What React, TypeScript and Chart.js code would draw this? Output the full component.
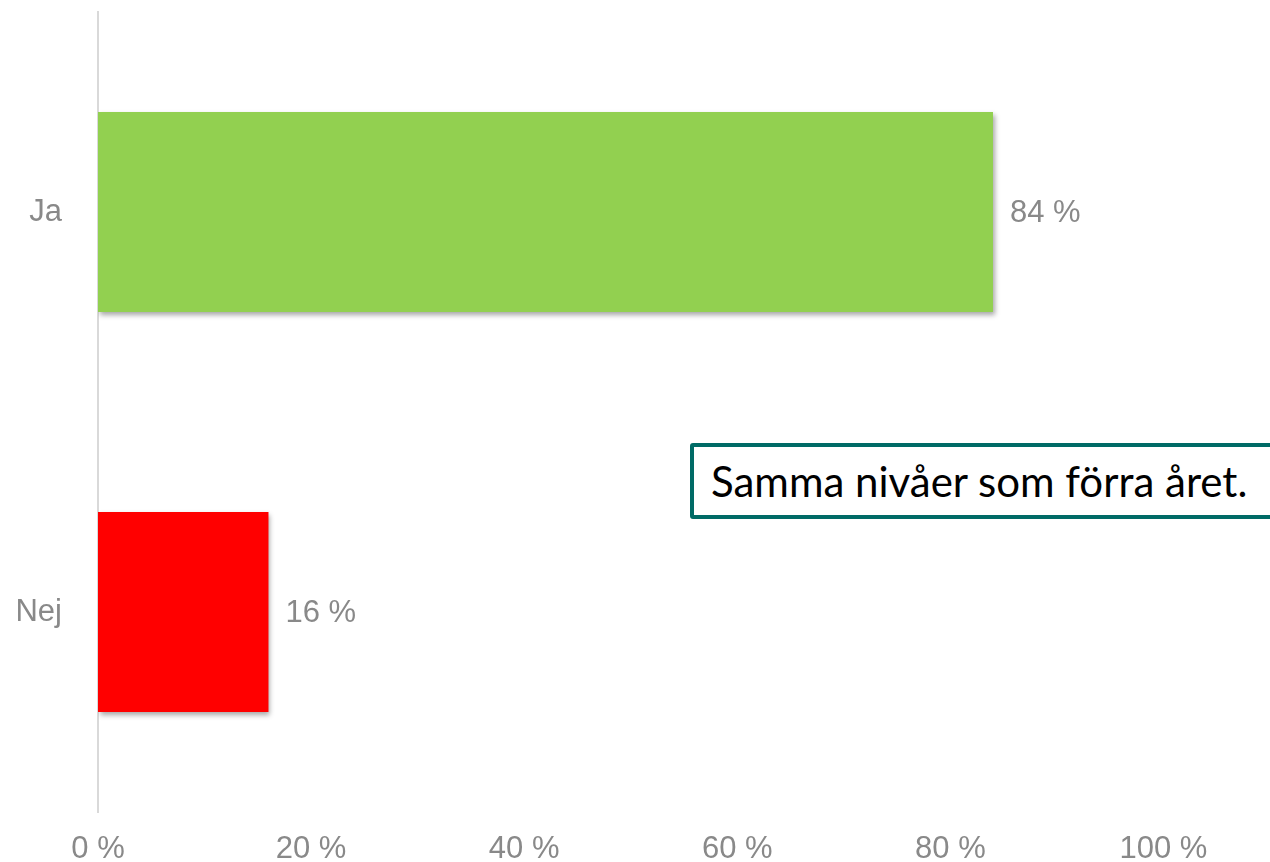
import React, { useEffect, useRef } from 'react';
import { Chart, registerables } from 'chart.js';

Chart.register(...registerables);

const categories = ['Ja', 'Nej'];
const values = [84, 16];
const barColors = ['#92D050', '#FF0000'];
const xTicks = [0, 20, 40, 60, 80, 100];
const xMax = 110;
const note = 'Samma nivåer som förra året.';

const FONT = '"Liberation Sans", Arial, sans-serif';
const GREY = '#898989';

const barShadow = {
  id: 'barShadow',
  beforeDatasetDraw(chart: any) {
    const c = chart.ctx;
    c.save();
    c.shadowColor = 'rgba(0,0,0,0.35)';
    c.shadowBlur = 5;
    c.shadowOffsetX = 2;
    c.shadowOffsetY = 3;
  },
  afterDatasetDraw(chart: any) {
    chart.ctx.restore();
  },
};

const valueLabels = {
  id: 'valueLabels',
  afterDatasetsDraw(chart: any) {
    const ctx = chart.ctx;
    const meta = chart.getDatasetMeta(0);
    ctx.save();
    ctx.font = `31px ${FONT}`;
    ctx.fillStyle = GREY;
    ctx.textBaseline = 'middle';
    ctx.textAlign = 'left';
    meta.data.forEach((bar: any, i: number) => {
      ctx.fillText(values[i] + ' %', bar.x + 17, bar.y + 1);
    });
    ctx.restore();
  },
};

export default function App() {
  const ref = useRef<HTMLCanvasElement | null>(null);

  useEffect(() => {
    if (!ref.current) return;
    const chart = new Chart(ref.current, {
      type: 'bar',
      data: {
        labels: categories,
        datasets: [
          {
            data: values,
            backgroundColor: barColors,
            borderWidth: 0,
            barPercentage: 0.5,
            categoryPercentage: 1,
          },
        ],
      },
      options: {
        indexAxis: 'y',
        animation: false,
        responsive: false,
        maintainAspectRatio: false,
        layout: { padding: { top: 12, left: 0, right: 0, bottom: 0 } },
        plugins: {
          legend: { display: false },
          tooltip: { enabled: false },
          title: { display: false },
        },
        scales: {
          x: {
            type: 'linear',
            min: 0,
            max: xMax,
            grid: { display: false },
            border: { display: false },
            afterBuildTicks: (scale: any) => {
              scale.ticks = xTicks.map((v) => ({ value: v }));
            },
            afterFit: (scale: any) => {
              scale.height = 50;
            },
            ticks: {
              padding: 11,
              color: GREY,
              font: { family: FONT, size: 31 },
              maxRotation: 0,
              callback: (v: any) => v + ' %',
            },
          },
          y: {
            grid: { display: false },
            border: { display: true, color: '#d9d9d9', width: 2 },
            afterFit: (scale: any) => {
              scale.width = 98;
              scale.paddingTop = 0;
              scale.paddingBottom = 0;
            },
            ticks: {
              padding: 28,
              color: GREY,
              font: { family: FONT, size: 31 },
            },
          },
        },
      },
      plugins: [barShadow, valueLabels],
    });
    return () => chart.destroy();
  }, []);

  return (
    <div
      style={{
        position: 'fixed',
        left: 0,
        top: 0,
        width: 1270,
        height: 862,
        overflow: 'hidden',
        background: '#ffffff',
      }}
    >
      <canvas ref={ref} width={1270} height={862} style={{ display: 'block' }} />
      <div
        style={{
          position: 'absolute',
          left: 690,
          top: 443,
          width: 620,
          height: 76,
          boxSizing: 'border-box',
          border: '4px solid #006b66',
          borderRadius: 3,
          background: '#ffffff',
          display: 'flex',
          alignItems: 'center',
          paddingLeft: 17,
          fontFamily: 'Lato, "Open Sans", sans-serif',
          fontSize: 42,
          color: '#000000',
          whiteSpace: 'nowrap',
        }}
      >
        {note}
      </div>
    </div>
  );
}
